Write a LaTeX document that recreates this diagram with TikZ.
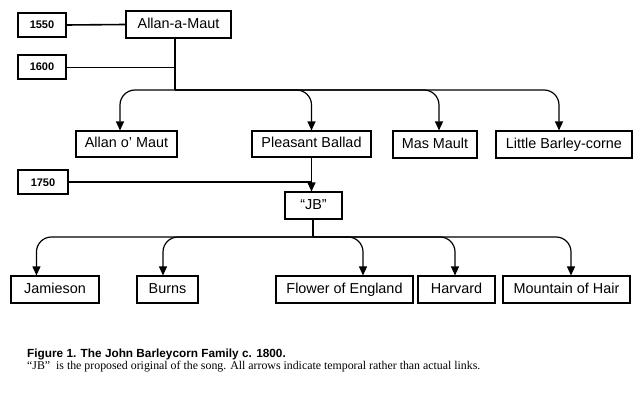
\documentclass[tikz,border=0pt]{standalone}
\usepackage{fontspec}
\setmainfont{Liberation Sans}
\newfontfamily\timesf[Ligatures=TeX]{Liberation Serif}
\usetikzlibrary{arrows.meta}
\begin{document}
\begin{tikzpicture}[x=1pt,y=-1pt,
  box/.style={draw, line width=1.1pt, inner sep=0pt, minimum height=27pt, text height=10.4pt, text depth=3pt, font=\fontsize{14.4}{16}\selectfont},
  yearbox/.style={draw, line width=1.1pt, inner sep=0pt, minimum width=48pt, minimum height=24pt, text height=8pt, text depth=0pt, font=\fontsize{11}{13}\selectfont\bfseries},
  conn/.style={line width=1.2pt},
  thin/.style={line width=0.9pt},
  arr/.style={line width=1.2pt, rounded corners=15pt, -{Triangle[width=8pt,length=9pt]}}]
\useasboundingbox (0,0) rectangle (642,398);
% year boxes
\node[yearbox] (y1550) at (42,25) {1550};
\node[yearbox] (y1600) at (42,67) {1600};
\node[yearbox, minimum width=50pt] (y1750) at (43,182) {1750};
% first generation
\node[box, minimum width=105pt] (amaut) at (178.5,24.5) {Allan-a-Maut};
\node[box, minimum width=101pt, minimum height=26pt] (aom) at (126.5,144) {Allan o' Maut};
\node[box, minimum width=119pt, minimum height=26pt] (pb) at (311.5,144) {Pleasant Ballad};
\node[box, minimum width=84pt] (mm) at (435,144.5) {Mas Mault};
\node[box, minimum width=136pt] (lbc) at (564,144.5) {Little Barley-corne};
% JB
\node[box, minimum width=57pt] (jb) at (313.5,205.5) {“JB”};
% second generation
\node[box, minimum width=88pt] (jam) at (55,289.5) {Jamieson};
\node[box, minimum width=61pt] (burns) at (167.5,289.5) {Burns};
\node[box, minimum width=137pt] (foe) at (344.5,289.5) {Flower of England};
\node[box, minimum width=77pt] (harv) at (456.5,289.5) {Harvard};
\node[box, minimum width=127pt] (moh) at (566.5,289.5) {Mountain of Hair};
% bus points
\coordinate (top) at (175,38);
\coordinate (bus1) at (175,90);
\coordinate (jbb) at (313,219);
\coordinate (bus2) at (313,237);
% year connectors
\draw[line width=1.6pt] (y1550.east) -- (amaut.west);
\draw[thin] (y1600.east) -- (y1600.east -| top);
\draw[conn] (top) -- (bus1);
% first generation arrows
\draw[arr] (bus1) -| ([xshift=-6.5pt]aom.north);
\draw[arr] (bus1) -| (pb.north);
\draw[arr] (bus1) -| ([xshift=4pt]mm.north);
\draw[arr] (bus1) -| ([xshift=-5pt]lbc.north);
% Pleasant Ballad to JB
\draw[line width=1.2pt, -{Triangle[width=8pt,length=9pt]}] (pb.south) -- (pb.south |- jb.north);
\draw[conn] (y1750.east) -- (y1750.east -| pb.south);
% JB to second generation
\draw[conn] (jbb) -- (bus2);
\draw[arr] (bus2) -| ([xshift=26pt]jam.north west);
\draw[arr] (bus2) -| ([xshift=-4.5pt]burns.north);
\draw[arr] (bus2) -| ([xshift=18.5pt]foe.north);
\draw[arr] (bus2) -| ([xshift=-1.5pt]harv.north);
\draw[arr] (bus2) -| ([xshift=4.5pt]moh.north);
% caption
\node[anchor=base west, inner sep=0pt, font=\fontsize{11.8}{14}\selectfont\bfseries] (cap1) at (27,357) {Figure 1. The John Barleycorn Family c. 1800.};
\node[anchor=base west, inner sep=0pt, font=\fontsize{11.85}{14}\selectfont\timesf] (cap2) at (27,369) {“JB”\ \ is the proposed original of the song. All arrows indicate temporal rather than actual links.};
\end{tikzpicture}
\end{document}
